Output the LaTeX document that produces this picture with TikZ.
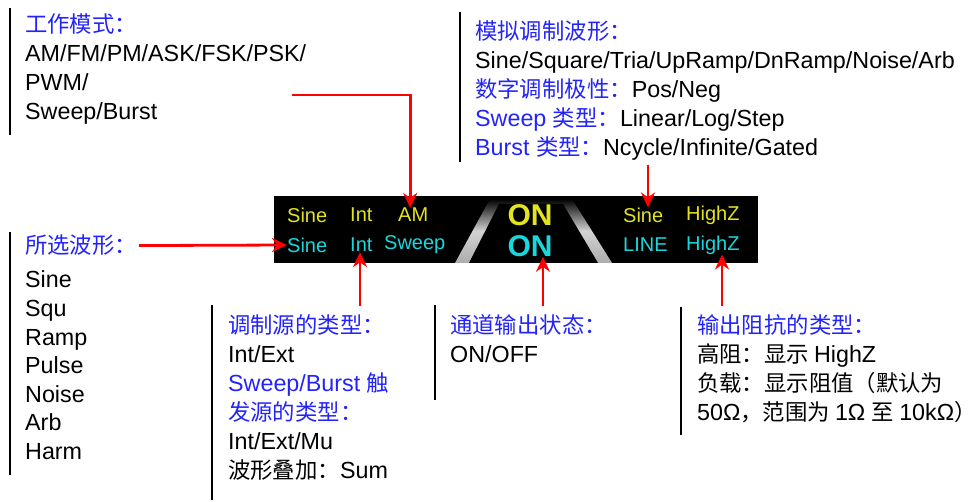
\documentclass[tikz,border=0pt]{standalone}
\usepackage{fontspec}
\setmainfont{Liberation Sans}
\newfontfamily\cjk[Scale=0.96]{Noto Sans CJK SC}
\usetikzlibrary{arrows.meta,positioning,calc}
\definecolor{lblblue}{RGB}{35,35,250}
\definecolor{lcdyellow}{RGB}{228,228,30}
\definecolor{lcdcyan}{RGB}{25,215,220}
\newcommand{\hd}[1]{\textcolor{lblblue}{\cjk #1}}

\begin{document}
\begin{tikzpicture}
[x=1pt,y=-1pt,
edge/.style={-{Stealth[length=15pt,width=14pt]}, draw=red, line width=2.8pt},
note/.style={anchor=base west, inner sep=0pt,
  font=\fontsize{23.3}{29}\selectfont},
bar/.style={line width=2pt},
lcdtxt/.style={anchor=west, inner sep=0pt, font=\fontsize{20}{20}\selectfont},
bigon/.style={inner sep=0pt, font=\fontsize{30}{30}\bfseries}]
\useasboundingbox (0,0) rectangle (975,502);
%%
\node (mode) [note] at (25,33) {\vtop{\hbox{\hd{工作模式：}}
\hbox{AM/FM/PM/ASK/FSK/PSK/}
\hbox{PWM/}
\hbox{Sweep/Burst}}};
\draw[bar] (10,8) -- (10,135);
%%
\node (modWave) [note] at (475,40) {\vtop{\hbox{\hd{模拟调制波形：}}
\hbox{Sine/Square/Tria/UpRamp/DnRamp/Noise/Arb}
\hbox{\hd{数字调制极性：}Pos/Neg}
\hbox{\textcolor{lblblue}{Sweep \cjk 类型：}Linear/Log/Step}
\hbox{\textcolor{lblblue}{Burst \cjk 类型：}Ncycle/Infinite/Gated}}};
\draw[bar] (460,12) -- (460,162);
%%
\node (selWave) [note] at (25,254) {\hd{所选波形：}};
\node (waveList) [note, font=\fontsize{23.3}{28.6}\selectfont] at (25,288)
{\vtop{\hbox{Sine}\hbox{Squ}\hbox{Ramp}\hbox{Pulse}\hbox{Noise}\hbox{Arb}\hbox{Harm}}};
\draw[bar] (10,232) -- (10,475);
%%
\node (modSrc) [note] at (228,334) {\vtop{\hbox{\hd{调制源的类型：}}
\hbox{Int/Ext}
\hbox{\textcolor{lblblue}{Sweep/Burst {\cjk 触}}}
\hbox{\hd{发源的类型：}}
\hbox{Int/Ext/Mu}
\hbox{{\cjk 波形叠加：}Sum}}};
\draw[bar] (212,305) -- (212,500);
%%
\node (outState) [note] at (450,334) {\vtop{\hbox{\hd{通道输出状态：}}
\hbox{ON/OFF}}};
\draw[bar] (435,305) -- (435,400);
%%
\node (outImp) [note] at (697,334) {\vtop{\hbox{\hd{输出阻抗的类型：}}
\hbox{{\cjk 高阻：显示 }HighZ}
\hbox{{\cjk 负载：显示阻值（默认为}}
\hbox{50Ω{\cjk ，范围为 }1Ω {\cjk 至 }10kΩ{\cjk ）}}}};
\draw[bar] (681,307) -- (681,435);
%%
% display
\node (lcd) [fill=black, inner sep=0pt, minimum width=484pt, minimum height=67pt,
  anchor=north west] at (274,196) {};
\shade[top color=black, bottom color=gray!65, middle color=gray!35]
  (455,263) -- (490,199) -- (572,199) -- (612,263) -- cycle;
\fill[black] (469,263) -- (499,204) -- (563,204) -- (598,263) -- cycle;
%%
\node (tSine) [lcdtxt, text=lcdyellow] at (287,215) {Sine};
\node (tInt) [lcdtxt, text=lcdyellow] at (350,215) {Int};
\node (tAM) [lcdtxt, text=lcdyellow] at (398,215) {AM};
\node (bSine) [lcdtxt, text=lcdcyan] at (287,245) {Sine};
\node (bInt) [lcdtxt, text=lcdcyan] at (350,245) {Int};
\node (bSweep) [lcdtxt, text=lcdcyan] at (384,245) {Sweep};
\node (tOn) [bigon, text=lcdyellow] at (530,215) {ON};
\node (bOn) [bigon, text=lcdcyan] at (530,246) {ON};
\node (rSine) [lcdtxt, text=lcdyellow] at (623,215) {Sine};
\node (tHighZ) [lcdtxt, text=lcdyellow] at (686,215) {HighZ};
\node (rLine) [lcdtxt, text=lcdcyan] at (623,245) {LINE};
\node (bHighZ) [lcdtxt, text=lcdcyan] at (686,245) {HighZ};
%%
\coordinate (modeEnd) at (292,95);
\coordinate (modWaveEnd) at (648,165);
\coordinate (modSrcTop) at (360,306);
\coordinate (outStateTop) at (543,306);
\coordinate (outImpTop) at (722,306);
%%
\draw[edge] (modeEnd) -| ([xshift=-3pt]tAM.north);
\draw[edge] (modWaveEnd) -- (modWaveEnd |- rSine.north);
\draw[edge] ([xshift=2pt]selWave.east) -- (bSine.west);
\draw[edge] (modSrcTop) -- (modSrcTop |- bInt.south);
\draw[edge] (outStateTop) -- (outStateTop |- bOn.south);
\draw[edge] (outImpTop) -- (outImpTop |- bHighZ.south);
%%
\end{tikzpicture}
\end{document}
